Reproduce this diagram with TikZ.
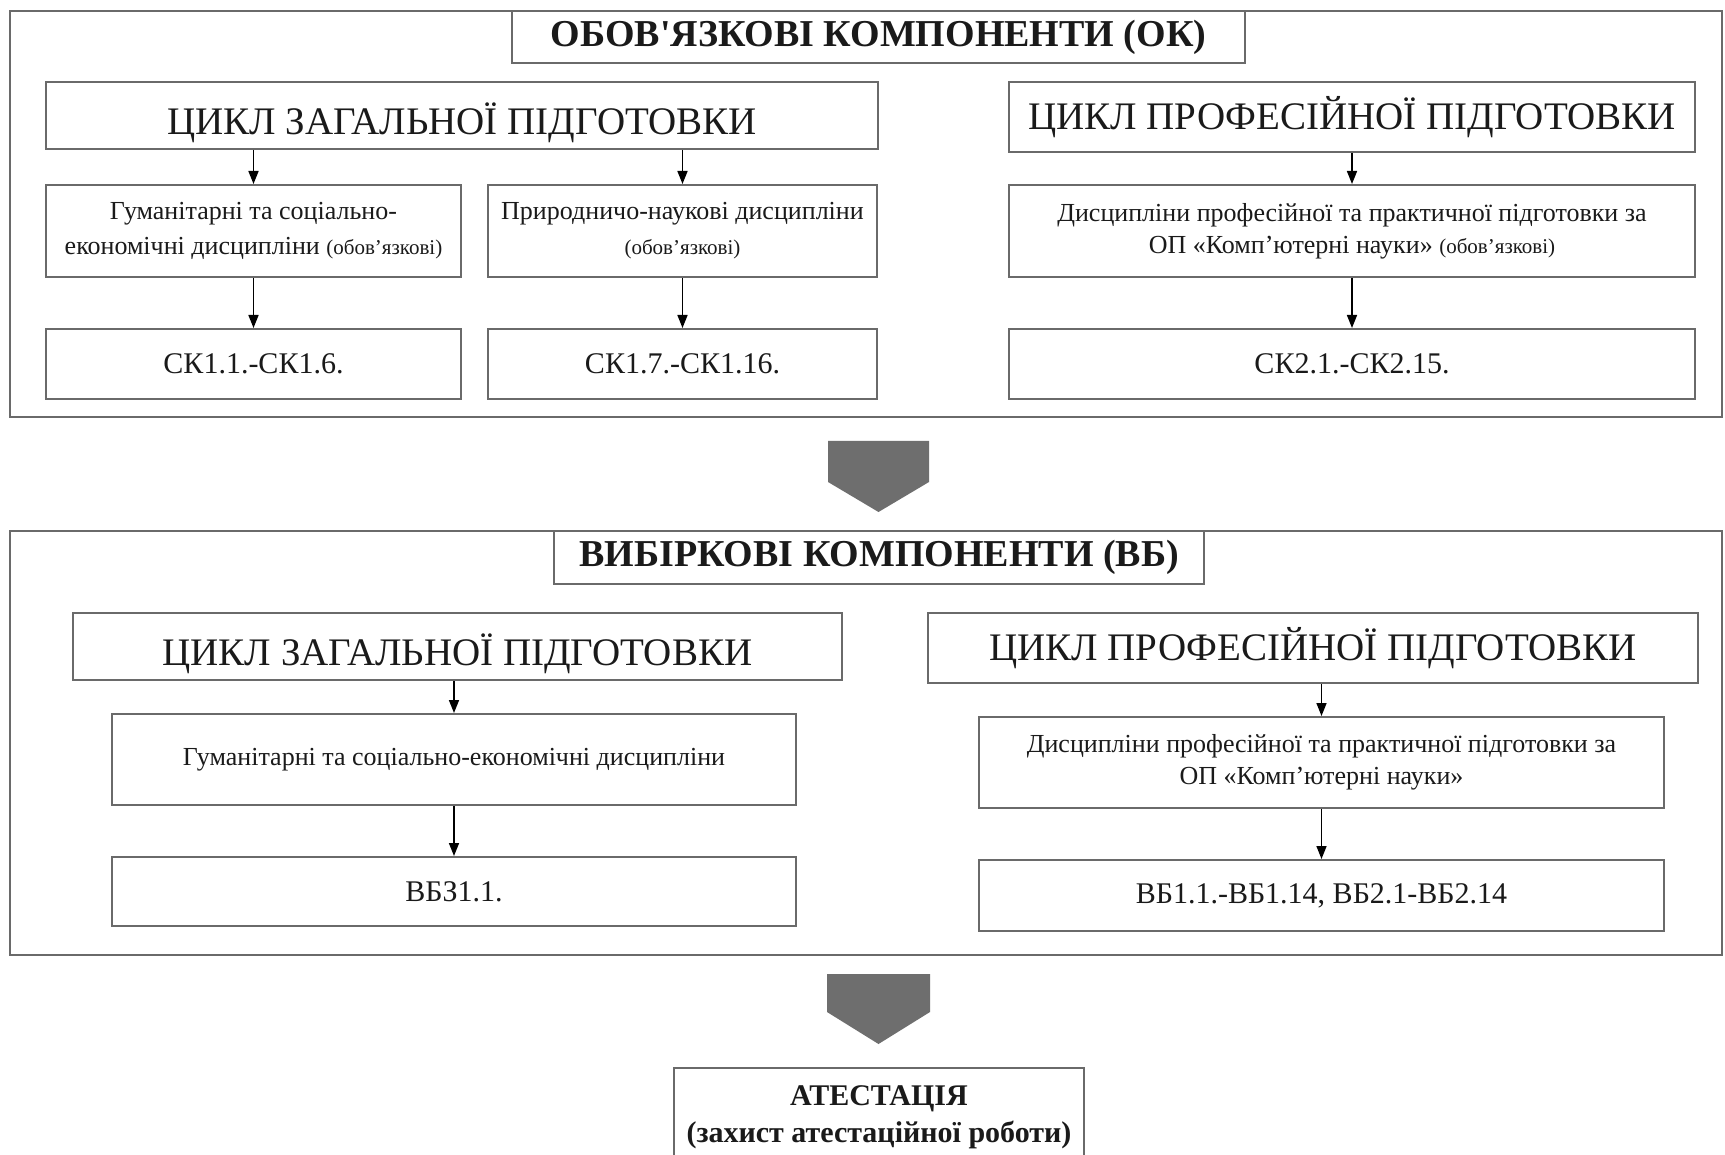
\documentclass[tikz,border=0pt]{standalone}
\usepackage{fontspec}
\setmainfont{Liberation Serif}
\usetikzlibrary{arrows.meta}
\definecolor{lc}{HTML}{6A6A6A}
\definecolor{ac}{HTML}{6E6E6E}
\definecolor{tc}{HTML}{1A1A1A}
\begin{document}
\begin{tikzpicture}[x=1pt,y=-1pt,
  box/.style={draw=lc,line width=2pt,rectangle,inner sep=0pt,align=center,fill=white,text=tc},
  arr/.style={draw=black,line width=1.6pt,-{Triangle[length=13pt,width=10pt]}},
  titlef/.style={font=\fontsize{38}{44}\selectfont\bfseries},
  bigf/.style={font=\fontsize{39}{44}\selectfont},
  midf/.style={font=\fontsize{26}{35}\selectfont},
  midg/.style={font=\fontsize{26}{32}\selectfont},
  codef/.style={font=\fontsize{30}{34}\selectfont},
  grayarrow/.style={fill=ac}
]
\clip (0,0) rectangle (1725,1155);
\fill[white] (0,0) rectangle (1725,1155);
\newcommand{\smallob}{{\fontsize{21}{32}\selectfont (обов’язкові)}}
\newcommand{\lowr}[1]{\raisebox{-7pt}[\height][\depth]{#1}}
\newcommand{\straightq}{{\addfontfeatures{Ligatures=TeXOff}'}}

% ---------- block 1 ----------
\node[box,minimum width=1712pt,minimum height=406pt] (o1) at (866,214) {};
\node[box,titlef,minimum width=733pt,minimum height=52pt] (t1) at (878.5,37) {ОБОВ\straightq ЯЗКОВІ КОМПОНЕНТИ (ОК)};

\node[box,bigf,minimum width=832pt,minimum height=67pt] (z1) at (462,115.5) {\lowr{ЦИКЛ ЗАГАЛЬНОЇ ПІДГОТОВКИ}};
\node[box,bigf,minimum width=686pt,minimum height=70pt] (p1) at (1352,117) {ЦИКЛ ПРОФЕСІЙНОЇ ПІДГОТОВКИ};

\node[box,midf,minimum width=415pt,minimum height=92pt] (h1) at (253.5,231) {Гуманітарні та соціально-\\економічні дисципліни \smallob};
\node[box,midf,minimum width=389pt,minimum height=92pt] (n1) at (682.5,231) {Природничо-наукові дисципліни\\\smallob};
\node[box,midg,minimum width=686pt,minimum height=92pt] (d1) at (1352,231) {Дисципліни професійної та практичної підготовки за\\ОП «Комп’ютерні науки» \smallob};

\node[box,codef,minimum width=415pt,minimum height=70pt] (c1) at (253.5,364) {СК1.1.-СК1.6.};
\node[box,codef,minimum width=389pt,minimum height=70pt] (c2) at (682.5,364) {СК1.7.-СК1.16.};
\node[box,codef,minimum width=686pt,minimum height=70pt] (c3) at (1352,364) {СК2.1.-СК2.15.};

\draw[arr] (z1.south -| h1) -- (h1.north);
\draw[arr] (z1.south -| n1) -- (n1.north);
\draw[arr] (p1.south) -- (d1.north);
\draw[arr] (h1.south) -- (c1.north);
\draw[arr] (n1.south) -- (c2.north);
\draw[arr] (d1.south) -- (c3.north);

% ---------- gray arrow 1 ----------
\fill[grayarrow] (828,441) -- (929,441) -- (929,482) -- (878.5,512) -- (828,482) -- cycle;

% ---------- block 2 ----------
\node[box,minimum width=1712pt,minimum height=424pt] (o2) at (866,743) {};
\node[box,titlef,minimum width=650pt,minimum height=53pt] (t2) at (879,557.5) {ВИБІРКОВІ КОМПОНЕНТИ (ВБ)};

\node[box,bigf,minimum width=769pt,minimum height=67pt] (z2) at (457.5,646.5) {\lowr{ЦИКЛ ЗАГАЛЬНОЇ ПІДГОТОВКИ}};
\node[box,bigf,minimum width=770pt,minimum height=70pt] (p2) at (1313,648) {ЦИКЛ ПРОФЕСІЙНОЇ ПІДГОТОВКИ};

\node[box,midf,minimum width=684pt,minimum height=91pt] (h2) at (454,759.5) {Гуманітарні та соціально-економічні дисципліни};
\node[box,midg,minimum width=685pt,minimum height=91pt] (d2) at (1321.5,762.5) {Дисципліни професійної та практичної підготовки за\\ОП «Комп’ютерні науки»};

\node[box,codef,minimum width=684pt,minimum height=69pt] (b1) at (454,891.5) {ВБЗ1.1.};
\node[box,codef,minimum width=685pt,minimum height=71pt] (b2) at (1321.5,895.5) {ВБ1.1.-ВБ1.14, ВБ2.1-ВБ2.14};

\draw[arr] (z2.south -| h2) -- (h2.north);
\draw[arr] (p2.south -| d2) -- (d2.north);
\draw[arr] (h2.south) -- (b1.north);
\draw[arr] (d2.south) -- (b2.north);

% ---------- gray arrow 2 ----------
\fill[grayarrow] (827,974) -- (930,974) -- (930,1012) -- (878.5,1044) -- (827,1012) -- cycle;

% ---------- attestation ----------
\node[box,minimum width=410pt,minimum height=140pt,anchor=north] (a) at (879,1067) {};
\node[text=tc,align=center,inner sep=0pt,font=\fontsize{30}{37}\selectfont\bfseries] (at) at (879,1117)
  {АТЕСТАЦІЯ\\(захист атестаційної роботи)};
\end{tikzpicture}
\end{document}
